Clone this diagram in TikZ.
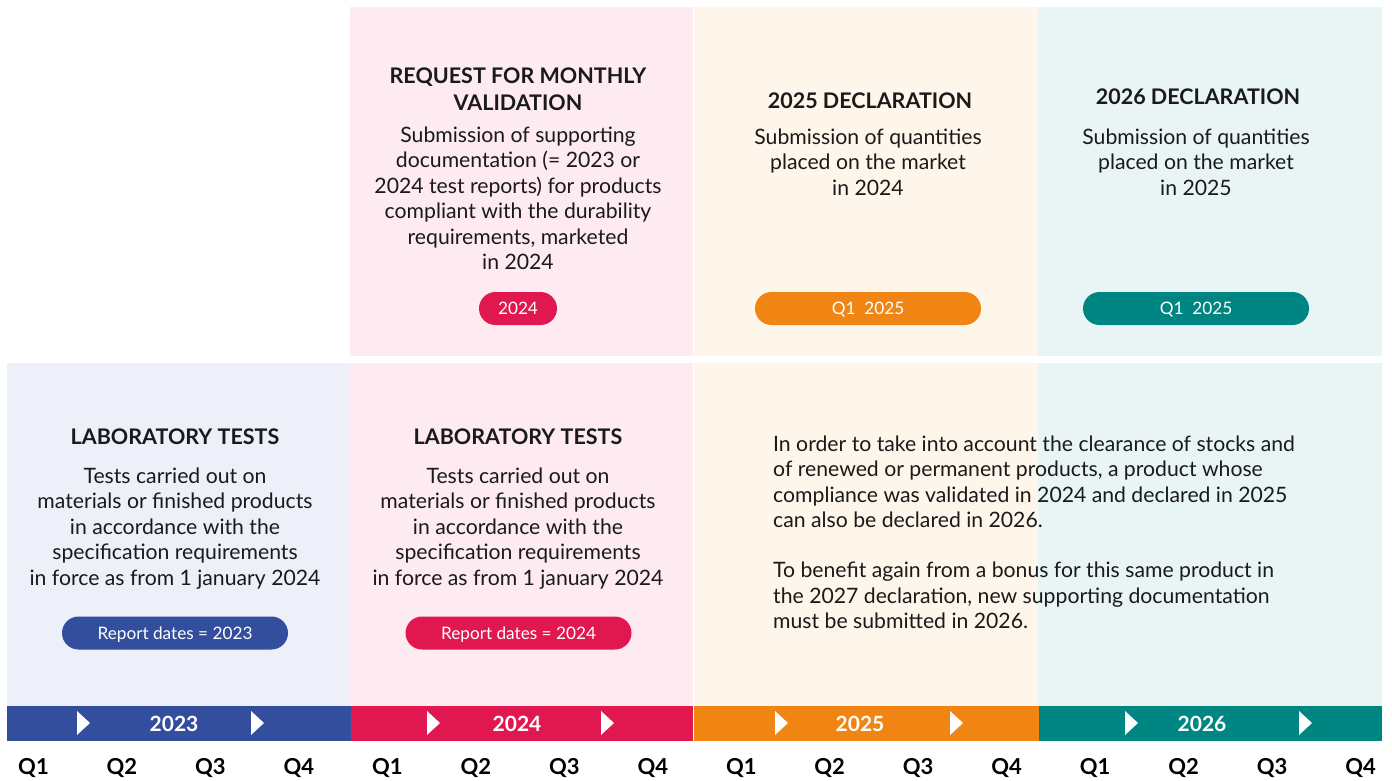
\documentclass[tikz,border=0pt]{standalone}
\usepackage{fontspec}
\setmainfont{Lato}
\definecolor{cblue}{HTML}{334E9D}
\definecolor{bgblue}{HTML}{EDF0F9}
\definecolor{cred}{HTML}{E1174F}
\definecolor{bgred}{HTML}{FDEBF1}
\definecolor{corange}{HTML}{F18513}
\definecolor{bgorange}{HTML}{FEF5EB}
\definecolor{cteal}{HTML}{008682}
\definecolor{bgteal}{HTML}{E9F5F5}
\definecolor{txt}{HTML}{1A1A1A}
\tikzset{
  titletext/.style={font=\fontsize{21.5}{26.5}\selectfont\bfseries, align=center, inner sep=0pt, text=txt, anchor=base},
  bodytext/.style={font=\fontsize{21.2}{25.5}\selectfont, align=center, inner sep=0pt, text=txt, anchor=base},
  pill/.style={font=\fontsize{17.2}{18}\selectfont, text=white, minimum height=33pt, rounded corners=16.5pt, inner sep=0pt, text height=12.5pt, text depth=0pt},
  yeartext/.style={font=\fontsize{21}{22}\selectfont\bfseries, text=white, anchor=base, inner sep=0pt},
  qtext/.style={font=\fontsize{22}{24}\selectfont\bfseries, text=black, anchor=base, inner sep=0pt},
  tri/.style={fill=white}
}
\begin{document}
\begin{tikzpicture}[x=1pt,y=-1pt]
\useasboundingbox (0,0) rectangle (1392,780);
\fill[white] (0,0) rectangle (1392,780);
% backgrounds
\fill[bgred] (350,7) rectangle (693,356);
\fill[bgorange] (694,7) rectangle (1038,356);
\fill[bgteal] (1038,7) rectangle (1382,356);
\fill[bgblue] (7,363) rectangle (350,706);
\fill[bgred] (350,363) rectangle (693,706);
\fill[bgorange] (694,363) rectangle (1038,706);
\fill[bgteal] (1038,363) rectangle (1382,706);
% year bar
\fill[cblue] (7,706) rectangle (350.7,741);
\fill[cred] (350.7,706) rectangle (693.3,741);
\fill[corange] (694.3,706) rectangle (1039,741);
\fill[cteal] (1039,706) rectangle (1382,741);
\foreach \tx in {77,251,427,601,775,950,1125,1299}{
  \fill[tri] (\tx,711) -- (\tx+13,723) -- (\tx,735) -- cycle;
}
\node[yeartext] (y23) at (174,731) {2023};
\node[yeartext] (y24) at (517,731) {2024};
\node[yeartext] (y25) at (860,731) {2025};
\node[yeartext] (y26) at (1202,731) {2026};
% quarters
\foreach \i in {0,...,15}{
  \pgfmathtruncatemacro{\q}{mod(\i,4)+1}
  \node[qtext] (q\i) at ({33.5+88.47*\i},774) {Q\q};
}
% top column 2
\node[titletext] (t2) at (518,110) {REQUEST FOR MONTHLY\\VALIDATION};
\node[bodytext] (b2) at (518,269.5) {Submission of supporting\\documentation (= 2023 or\\2024 test reports) for products\\compliant with the durability\\requirements, marketed\\in 2024};
\node[pill, fill=cred, minimum width=78pt] (p2) at (518,308.5) {2024};
% top column 3
\node[titletext] (t3) at (870,108) {2025 DECLARATION};
\node[bodytext] (b3) at (868,195) {Submission of quantities\\placed on the market\\in 2024};
\node[pill, fill=corange, minimum width=226pt] (p3) at (868,308.5) {Q1\ \ 2025};
% top column 4
\node[titletext] (t4) at (1198,104) {2026 DECLARATION};
\node[bodytext] (b4) at (1196,195) {Submission of quantities\\placed on the market\\in 2025};
\node[pill, fill=cteal, minimum width=226pt] (p4) at (1196,308.5) {Q1\ \ 2025};
% bottom column 1
\node[titletext] (t5) at (175,444) {LABORATORY TESTS};
\node[bodytext] (b5) at (175,585) {Tests carried out on\\materials or finished products\\in accordance with the\\specification requirements\\in force as from 1 january 2024};
\node[pill, fill=cblue, minimum width=226pt] (p5) at (175,633) {Report dates = 2023};
% bottom column 2
\node[titletext] (t6) at (518,444) {LABORATORY TESTS};
\node[bodytext] (b6) at (518,585) {Tests carried out on\\materials or finished products\\in accordance with the\\specification requirements\\in force as from 1 january 2024};
\node[pill, fill=cred, minimum width=226pt] (p6) at (518.5,633) {Report dates = 2024};
% bottom right
\node[bodytext, font=\fontsize{21.2}{25.3}\selectfont, align=left, anchor=base west] (b7) at (773,628.5) {In order to take into account the clearance of stocks and\\of renewed or permanent products, a product whose\\compliance was validated in 2024 and declared in 2025\\can also be declared in 2026.\\[25.3pt]To benefit again from a bonus for this same product in\\the 2027 declaration, new supporting documentation\\must be submitted in 2026.};
\end{tikzpicture}
\end{document}
